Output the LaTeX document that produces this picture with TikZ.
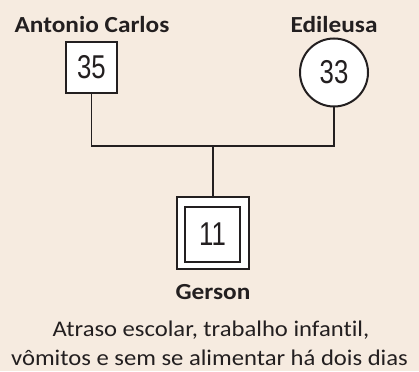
\documentclass[tikz,border=0pt]{standalone}
\usepackage{fontspec}
\setmainfont[FakeStretch=1.1,RawFeature={-liga;-clig;-dlig}]{Carlito}
\newfontfamily\numfont[FakeStretch=0.78]{Liberation Sans}
\definecolor{bg}{RGB}{246,235,224}
\definecolor{ink}{RGB}{35,31,32}
\begin{document}
\begin{tikzpicture}[x=1pt,y=-1pt,
  every node/.style={text=ink},
  person/.style={draw=ink,line width=2pt,fill=white,inner sep=0pt,font=\numfont\fontsize{33}{33}\selectfont},
  lbl/.style={font=\bfseries\fontsize{23}{26}\selectfont,inner sep=0pt},
  txt/.style={font=\fontsize{22.4}{26}\selectfont,inner sep=0pt},
  link/.style={draw=ink,line width=1.6pt}]
\fill[bg] (0,0) rectangle (419,371);
\useasboundingbox (0,0) rectangle (419,371);
\node[person,minimum size=51pt] (father) at (91.5,67.5) {35};
\node[person,circle,minimum size=68pt] (mother) at (334,72.5) {33};
\node[person,minimum size=72pt] (child) at (213,233) {};
\node[draw=ink,line width=2pt,inner sep=0pt,minimum size=55pt,font=\numfont\fontsize{33}{33}\selectfont] (childin) at (212.5,234.5) {11};
\node[lbl,anchor=base] (fname) at (92,33) {Antonio Carlos};
\node[lbl,anchor=base] (mname) at (334,33) {Edileusa};
\node[lbl,anchor=base] (cname) at (213,299) {Gerson};
\node[txt,anchor=base] (l1) at (211,336) {Atraso escolar, trabalho infantil,};
\node[txt,anchor=base] (l2) at (209.5,365.5) {vômitos e sem se alimentar há dois dias};
\coordinate (fj) at (father.south |- 0,146);
\coordinate (mj) at (mother.south |- 0,146);
\coordinate (cj) at (child.north |- 0,146);
\draw[link] (father.south) -- (fj) -- (mj) -- (mother.south);
\draw[link] (cj) -- (child.north);
\end{tikzpicture}
\end{document}
